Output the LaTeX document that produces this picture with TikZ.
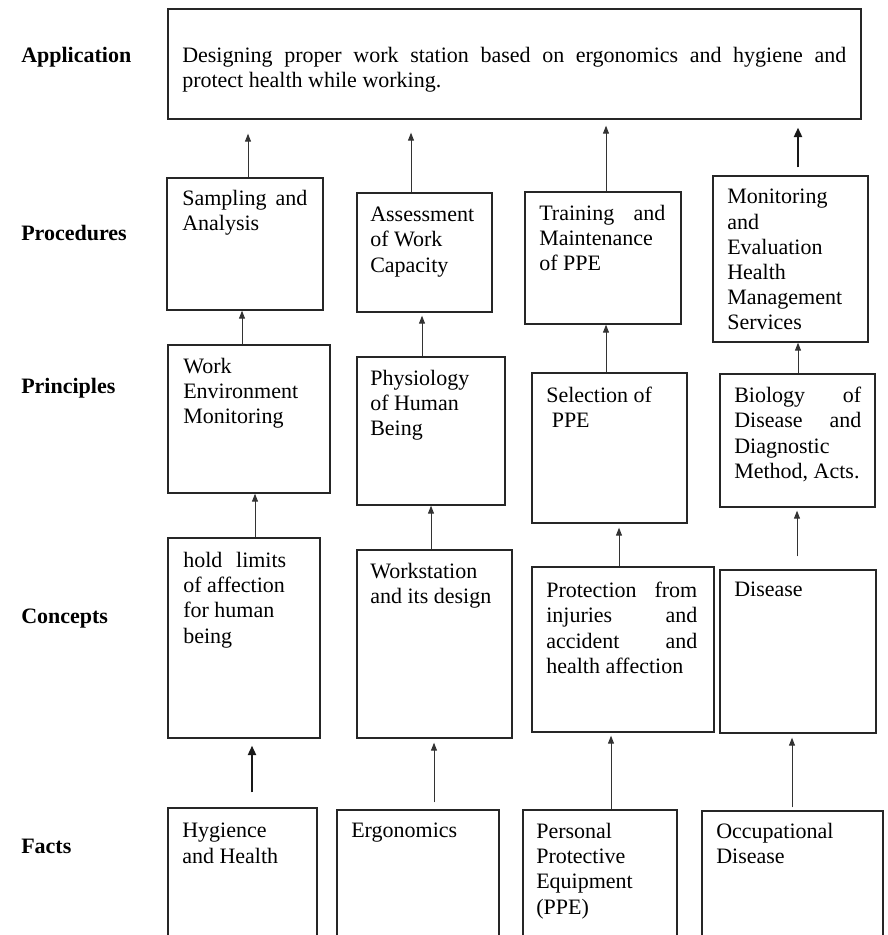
\documentclass[tikz,border=0pt]{standalone}
\usepackage{fontspec}
\setmainfont{Liberation Serif}
\usetikzlibrary{fit,arrows.meta}

\tikzset{
  box/.style={draw=black!85, line width=1pt, inner sep=0pt},
  txt/.style={anchor=north west, inner sep=0pt, align=left, font=\fontsize{16.5}{18.9}\selectfont},
  jtxt/.style={txt, align=justify},
  levellabel/.style={anchor=base west, inner sep=0pt, font=\fontsize{16.5}{18.9}\selectfont\bfseries},
  arr/.style={draw=black!80, line width=0.75pt, -{Triangle[length=6pt,width=4.5pt]}},
  thickarr/.style={draw=black!90, line width=1.5pt, -{Triangle[length=7pt,width=6pt]}}
}

\begin{document}
\begin{tikzpicture}[x=0.75pt,y=0.75pt,yscale=-1,xscale=1]
  \useasboundingbox (0,0) rectangle (888,935);
  \clip (0,0) rectangle (888,935);

  % Level labels
  \node[levellabel] (lapp) at (21,62) {Application};
  \node[levellabel] (lproc) at (21,240) {Procedures};
  \node[levellabel] (lprin) at (21,393) {Principles};
  \node[levellabel] (lconc) at (21,623) {Concepts};
  \node[levellabel] (lfact) at (21,853) {Facts};

  %Shape: Rectangle - application
  \node[box, fit={(168,9) (861,119)}] (app) {};
  \node[jtxt, text width=498pt] (apptxt) at (182,47) {Designing proper work station based on ergonomics and hygiene and\linebreak protect health while working.};

  %Shape: Rectangle - procedures
  \node[box, fit={(167,178) (323,310)}] (proc1) {};
  \node[box, fit={(357,193) (492,312)}] (proc2) {};
  \node[box, fit={(525,192) (681,324)}] (proc3) {};
  \node[box, fit={(713,176) (868,342)}] (proc4) {};
  % Text Node
  \node[jtxt, text width=93.75pt] (proc1txt) at (182,190) {Sampling and\linebreak Analysis};
  \node[txt] (proc2txt) at (370,207) {Assessment\\of Work\\Capacity};
  \node[jtxt, text width=94.5pt] (proc3txt) at (539,205) {Training and\linebreak Maintenance\\of PPE};
  \node[txt] (proc4txt) at (727,189) {Monitoring\\and\\Evaluation\\Health\\Management\\Services};

  %Shape: Rectangle - principles
  \node[box, fit={(168,345) (330,493)}] (prin1) {};
  \node[box, fit={(357,357) (505,505)}] (prin2) {};
  \node[box, fit={(532,373) (687,523)}] (prin3) {};
  \node[box, fit={(720,374) (875,507)}] (prin4) {};
  % Text Node
  \node[txt] (prin1txt) at (183,358) {Work\\Environment\\Monitoring};
  \node[txt] (prin2txt) at (370,370) {Physiology\\of Human\\Being};
  \node[txt] (prin3txt) at (546,387) {Selection of\\\hspace*{0.25em}PPE};
  \node[jtxt, text width=95.25pt] (prin4txt) at (734,387) {Biology of\linebreak Disease and\linebreak Diagnostic\\Method, Acts.};

  %Shape: Rectangle - concepts
  \node[box, fit={(168,538) (320,738)}] (conc1) {};
  \node[box, fit={(357,550) (512,738)}] (conc2) {};
  \node[box, fit={(532,567) (714,732)}] (conc3) {};
  \node[box, fit={(720,570) (876,733)}] (conc4) {};
  % Text Node
  \node[jtxt, text width=77.25pt] (conc1txt) at (183,552) {hold limits\linebreak of affection\\for human\\being};
  \node[txt] (conc2txt) at (370,563) {Workstation\\and its design};
  \node[jtxt, text width=113.25pt] (conc3txt) at (546,582) {Protection from\linebreak injuries and\linebreak accident and\linebreak health affection};
  \node[txt] (conc4txt) at (734,582) {Disease};

  %Shape: Rectangle - facts (cut at the bottom edge)
  \node[box, fit={(168,808) (317,960)}] (fact1) {};
  \node[box, fit={(337,810) (499,960)}] (fact2) {};
  \node[box, fit={(523,810) (677,960)}] (fact3) {};
  \node[box, fit={(702,811) (883,960)}] (fact4) {};
  % Text Node
  \node[txt] (fact1txt) at (182,823) {Hygience\\and Health};
  \node[txt] (fact2txt) at (351,823) {Ergonomics};
  \node[txt] (fact3txt) at (536,823) {Personal\\Protective\\Equipment\\(PPE)};
  \node[txt] (fact4txt) at (716,823) {Occupational\\Disease};

  %Straight Lines: procedures -> application
  \draw[arr, shorten >=10.5pt] (proc1.north -| 248,0) -- (app.south -| 248,0);
  \draw[arr, shorten >=9.75pt] (proc2.north -| 411,0) -- (app.south -| 411,0);
  \draw[arr, shorten >=4.5pt] (proc3.north -| 606,0) -- (app.south -| 606,0);
  \draw[thickarr, shorten <=6pt, shorten >=6pt] (proc4.north -| 798,0) -- (app.south -| 798,0);

  %Straight Lines: principles -> procedures
  \draw[arr] (prin1.north -| 242,0) -- (proc1.south -| 242,0);
  \draw[arr, shorten >=2.25pt] (prin2.north -| 422,0) -- (proc2.south -| 422,0);
  \draw[arr] (prin3.north -| 606,0) -- (proc3.south -| 606,0);
  \draw[arr] (prin4.north -| 798,0) -- (proc4.south -| 798,0);

  %Straight Lines: concepts -> principles
  \draw[arr] (conc1.north -| 255,0) -- (prin1.south -| 255,0);
  \draw[arr] (conc2.north -| 431,0) -- (prin2.south -| 431,0);
  \draw[arr, shorten >=3pt] (conc3.north -| 619,0) -- (prin3.south -| 619,0);
  \draw[arr, shorten <=9.75pt, shorten >=2.25pt] (conc4.north -| 797,0) -- (prin4.south -| 797,0);

  %Straight Lines: facts -> concepts
  \draw[thickarr, shorten <=11.25pt, shorten >=5.25pt] (fact1.north -| 252,0) -- (conc1.south -| 252,0);
  \draw[arr, shorten <=5.25pt, shorten >=3pt] (fact2.north -| 434,0) -- (conc2.south -| 434,0);
  \draw[arr, shorten >=2.25pt] (fact3.north -| 611,0) -- (conc3.south -| 611,0);
  \draw[arr, shorten <=2.25pt, shorten >=3pt] (fact4.north -| 792,0) -- (conc4.south -| 792,0);

\end{tikzpicture}
\end{document}
